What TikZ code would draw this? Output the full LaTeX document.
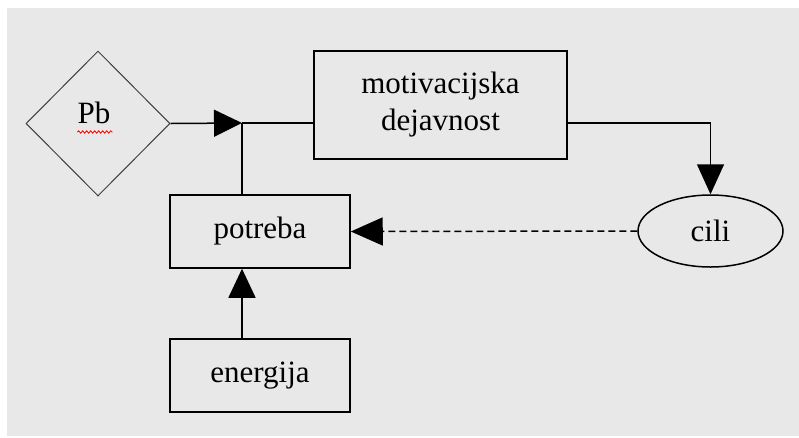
\documentclass[tikz,border=0pt]{standalone}
\usepackage{fontspec}
\setmainfont{Liberation Serif}
\usetikzlibrary{shapes.geometric,arrows.meta,decorations.pathmorphing}
\begin{document}
\begin{tikzpicture}[x=1pt,y=-1pt,
  lbl/.style={font=\fontsize{31}{37}\selectfont},
  box/.style={draw=black,line width=1.5pt,minimum width=#1,inner sep=0pt,lbl},
  conn/.style={draw=black,line width=1.5pt},
  tip/.style={-{Triangle[length=#1,width=27pt]}}]
\fill[white] (0,0) rectangle (799,437);
\fill[gray!18] (7,8) rectangle (799,436);
\useasboundingbox (0,0) rectangle (799,437);
\node[draw=black!75,line width=1pt,diamond,minimum width=144pt,minimum height=145pt,inner sep=0pt] (dia) at (98,123.5) {};
\node[anchor=base,lbl,inner sep=0pt] (pb) at (94,123) {Pb};
\draw[red,line width=0.8pt,decorate,decoration={snake,amplitude=1.2pt,segment length=4pt}] (pb.base west |- 0,132) -- ([xshift=2pt]pb.base east |- 0,132);
\node[box=253pt,minimum height=108pt,align=center] (mot) at (440.5,105) {motivacijska\\dejavnost};
\node[box=180pt,minimum height=73pt] (pot) at (260,231.5) {potreba};
\node[box=180pt,minimum height=73pt] (ene) at (260,375.5) {energija};
\node[draw=black,line width=1.5pt,ellipse,minimum width=145pt,minimum height=72pt,inner sep=0pt,lbl] (cil) at (710.5,231) {cili};
\coordinate (j) at (242,123);
\draw[conn,tip=28pt] (dia.east) -- (j);
\draw[conn] (j) -- (mot.west |- j);
\draw[conn] (j) -- (pot.north -| j);
\draw[conn,tip=30pt] (mot.east |- j) -| (cil.north);
\draw[conn,dash pattern=on 7pt off 4pt,-{Triangle[length=32pt,width=28pt]}] (cil.west) -- (pot.east);
\draw[conn,tip=29pt] (ene.north -| j) -- (pot.south -| j);
\end{tikzpicture}
\end{document}
